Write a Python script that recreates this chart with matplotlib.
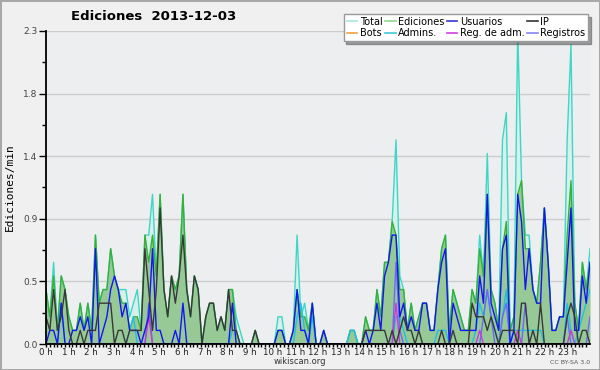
import numpy as np
import matplotlib
matplotlib.use('Agg')
from matplotlib import pyplot as plt
from matplotlib.lines import Line2D

# edits per minute, 10 minute bins (6 per hour)
total = [
    .4, .2, .6, .1, .5, .4,   .2, .1, .1, .3, .1, .3,   .1, .8, .3, .4, .4, .7,
    .5, .4, .4, .4, .2, .3,   .4, .1, .8, .8, 1.1, .5,  1.1, .4, .2, .5, .4, .5,
    1.1, .4, .2, .5, .4, 0,   .2, .3, .3, .1, .2, .1,   .4, .4, .2, .1, 0, 0,
    0, .1, 0, 0, 0, 0,        0, .2, .2, 0, 0, .1,      .8, .2, .3, .1, .3, 0,
    0, .1, 0, 0, 0, 0,        0, 0, .1, .1, 0, 0,       .2, .1, .1, .4, .2, .6,
    .6, .9, 1.5, .5, .4, .1,  .3, .1, .2, .3, .3, .1,   .1, .4, .7, .8, .1, .4,
    .3, .2, .1, .1, .4, .3,   .8, .5, 1.4, .4, .3, .1,  1.5, 1.7, .1, .2, 2.3, 1.2,
    .8, .8, .4, .3, .6, 1.0,  .6, .1, .1, .2, .2, 1.5,  2.2, .3, .1, .6, .4, .7,
]
ediciones = [
    .4, .2, .5, .1, .5, .4,   .2, .1, .1, .3, .1, .3,   .1, .8, .3, .4, .4, .7,
    .5, .4, .3, .3, .1, .2,   .2, .1, .8, .6, .8, .5,   1.1, .4, .2, .5, .4, .5,
    1.1, .4, .2, .5, .4, 0,   .2, .3, .3, .1, .2, .1,   .4, .4, .1, 0, 0, 0,
    0, .1, 0, 0, 0, 0,        0, .1, .1, 0, 0, .1,      .4, .2, .2, .1, .3, 0,
    0, .1, 0, 0, 0, 0,        0, 0, .1, .1, 0, 0,       .2, .1, .1, .4, .2, .6,
    .6, .9, .8, .4, .4, .1,   .3, .1, .2, .3, .3, .1,   .1, .4, .7, .8, .1, .4,
    .3, .2, .1, .1, .4, .3,   .7, .5, 1.1, .4, .3, .1,  .7, .9, .1, .2, 1.1, 1.2,
    .7, .7, .4, .3, .6, 1.0,  .6, .1, .1, .2, .2, .8,   1.2, .3, .1, .6, .4, .6,
]
usuarios = [
    0, .1, .1, 0, .3, 0,      0, .1, .1, .2, .1, .2,    0, .7, 0, .1, .2, .4,
    .5, .4, .2, .3, .1, .1,   .1, 0, .1, .2, .7, .1,    .1, 0, 0, 0, .1, 0,
    .3, 0, 0, 0, 0, 0,        0, 0, 0, 0, 0, 0,         0, .3, 0, 0, 0, 0,
    0, 0, 0, 0, 0, 0,         0, .1, .1, 0, 0, .1,      .4, .1, .1, 0, .3, 0,
    0, .1, 0, 0, 0, 0,        0, 0, 0, 0, 0, 0,         .1, 0, .1, .3, .1, .5,
    .6, .8, .8, .2, .3, .1,   .2, .1, .1, .3, .3, .1,   .1, .4, .6, .7, 0, .3,
    .2, .1, .1, .1, .1, .1,   .5, .3, 1.1, .3, .2, .1,  .7, .8, 0, .1, 1.1, .9,
    .4, .7, .4, .3, .3, 1.0,  .6, .1, .1, .2, .2, .6,   1.0, .1, .1, .5, .3, .6,
]
ip = [
    .2, .1, .4, .1, .2, .4,   .1, 0, 0, .1, 0, .1,      .1, .1, .3, .3, .3, .3,
    0, .1, .1, 0, .1, .1,     .1, .1, .7, .4, .1, .4,   1.0, .4, .2, .5, .3, .5,
    .8, .4, .2, .5, .4, 0,    .2, .3, .3, .1, .2, .1,   .4, .1, .1, 0, 0, 0,
    0, .1, 0, 0, 0, 0,        0, 0, 0, 0, 0, 0,         0, 0, 0, 0, 0, 0,
    0, 0, 0, 0, 0, 0,         0, 0, 0, 0, 0, 0,         .1, .1, .1, .1, .1, .1,
    0, .1, 0, .1, .2, .1,     .1, 0, .1, 0, 0, 0,       0, 0, .1, 0, 0, .1,
    0, 0, 0, 0, .3, .2,       .2, .2, .1, .2, .1, 0,    .1, .1, .1, .1, 0, .3,
    .3, 0, .1, 0, .3, 0,      0, 0, 0, 0, 0, .2,        .3, .2, 0, .1, .1, 0,
]
admins = [
    0, 0, 0, 0, .3, 0,        0, 0, 0, 0, 0, 0,         0, 0, 0, 0, 0, 0,
    0, 0, 0, 0, .1, .2,       0, 0, 0, 0, 0, 0,         0, 0, 0, 0, 0, 0,
    0, 0, 0, 0, 0, 0,         0, 0, 0, 0, 0, 0,         0, .1, .1, 0, 0, 0,
    0, 0, 0, 0, 0, 0,         0, 0, 0, 0, 0, 0,         .2, .3, .1, 0, .2, 0,
    0, 0, 0, 0, 0, 0,         0, 0, .1, .1, 0, 0,       0, 0, 0, 0, 0, 0,
    0, 0, .2, .2, .1, 0,      0, 0, 0, 0, 0, 0,         0, .1, .1, .1, 0, 0,
    0, 0, 0, 0, 0, .1,        .3, .2, .4, .2, .1, 0,    .2, .4, 0, .1, .1, .1,
    .1, .1, .1, .1, .1, 0,    0, 0, 0, 0, 0, .3,        .1, 0, .1, .2, .3, .4,
]
registros = [0] * 144
for i, v in [(27, .3), (92, .6), (93, .1), (115, .2), (116, .4), (117, .2),
             (120, .2), (121, .3), (126, .3), (137, .2), (143, .2)]:
    registros[i] = v
reg_adm = [0] * 144
for i, v in [(27, .2), (92, .3), (114, .1), (124, .1), (138, .1)]:
    reg_adm[i] = v

hour_labels = ['%d h' % h for h in range(24)]
y_labels = ['0.0', '0.5', '0.9', '1.4', '1.8', '2.3']

x = np.linspace(0, 24, len(total))

fig = plt.figure(figsize=(6, 3.7), dpi=100)
fig.patch.set_facecolor('#f0f0f0')
fig.patch.set_edgecolor('#a8a8a8')
fig.patch.set_linewidth(2)
ax = fig.add_axes([46 / 600, 1 - 344 / 370, 544 / 600, 313 / 370])
ax.set_facecolor('#eceef0')

ax.fill_between(x, total, color='#d6f1ec', lw=0)
ax.fill_between(x, ediciones, color='#97c997', lw=0)
ax.plot(x, total, color='#3fd6c6', lw=1.0)
ax.plot(x, ediciones, color='#37b037', lw=1.0)
ax.plot(x, admins, color='#22bfe0', lw=1.0)
ax.plot(x, registros, color='#6a6af5', lw=1.0)
ax.plot(x, reg_adm, color='#c83cd8', lw=1.0)
ax.plot(x, usuarios, color='#1515f0', lw=1.0)
ax.plot(x, ip, color='#383838', lw=1.0)

ax.set_xlim(0, 24)
ax.set_ylim(0, 2.3)
ax.set_xticks(np.arange(24))
ax.set_xticklabels(hour_labels, fontsize=6.2, color='#222')
ax.set_xticks(np.arange(0, 24, 1 / 6), minor=True)
yt = np.linspace(0, 2.3, 6)
ax.set_yticks(yt)
ax.set_yticklabels(y_labels, fontsize=6.5, color='#444')
ax.set_yticks((yt[:-1] + yt[1:]) / 2, minor=True)
ax.tick_params(axis='x', which='both', direction='out', length=2.5, width=1, pad=0.5)
ax.tick_params(axis='y', which='major', direction='out', length=5, width=1, pad=1)
ax.tick_params(axis='y', which='minor', direction='out', length=3, width=1)
ax.grid(axis='y', color='#cccccc', lw=1)
ax.set_axisbelow(True)
for s in ['top', 'right']:
    ax.spines[s].set_visible(False)
for s in ['left', 'bottom']:
    ax.spines[s].set_linewidth(1.3)
    ax.spines[s].set_zorder(5)

ax.set_ylabel('Ediciones/min', family='DejaVu Sans Mono', fontsize=8, labelpad=6)

fig.text(154 / 600, 1 - 17 / 370, 'Ediciones  2013-12-03', ha='center', va='center',
         fontsize=9.5, fontweight='bold')
fig.text(300 / 600, 1 - 362 / 370, 'wikiscan.org', ha='center', va='center',
         fontsize=6, color='#333')
fig.text(570 / 600, 1 - 362 / 370, 'CC BY-SA 3.0', ha='center', va='center',
         fontsize=4.5, color='#555')

names = ['Total', 'Bots', 'Ediciones', 'Admins.', 'Usuarios', 'Reg. de adm.', 'IP', 'Registros']
cols = ['#a6e8e0', '#f5a040', '#8ed88e', '#3fc8e0', '#3535dd', '#d040e0', '#333333', '#8585f2']
handles = [Line2D([], [], color=c, lw=1.2) for c in cols]
leg = fig.legend(handles, names, ncol=4, loc='upper right',
                 bbox_to_anchor=(593 / 600, 1 - 9 / 370), fontsize=7,
                 handlelength=1.1, handletextpad=0.25, columnspacing=0.25,
                 labelspacing=0.12, borderpad=0.3, fancybox=False, shadow=True,
                 framealpha=1)
leg.get_frame().set_edgecolor('#999999')

fig.savefig('out.png', dpi=100, facecolor=fig.get_facecolor(), edgecolor=fig.patch.get_edgecolor())
